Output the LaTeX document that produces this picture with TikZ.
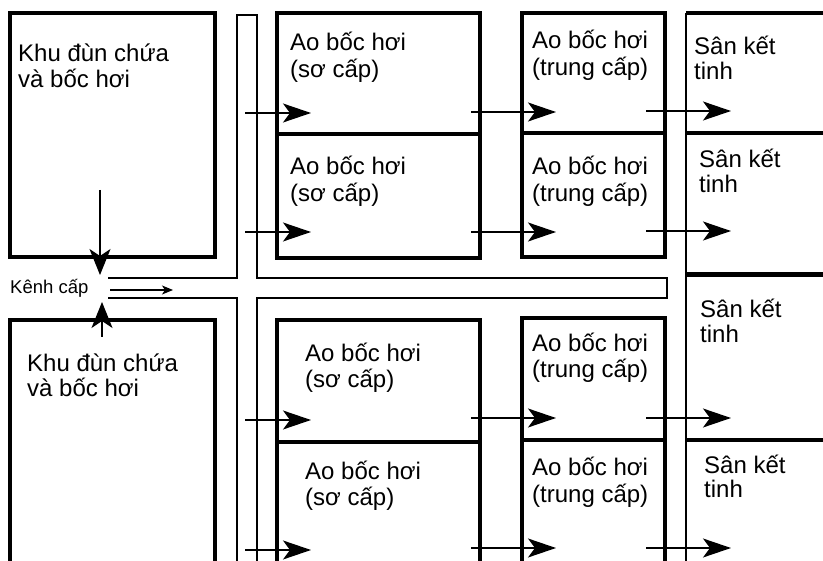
\documentclass[tikz,border=0pt]{standalone}
\usepackage{fontspec}
\setmainfont{Liberation Sans}
\usetikzlibrary{arrows.meta}
\begin{document}
\begin{tikzpicture}[x=1pt,y=-1pt,
  box/.style={line width=3.5pt},
  edge/.style={line width=2.5pt},
  chan/.style={line width=1.2pt},
  flow/.style={line width=1.3pt,-{Stealth[length=28pt,width=19pt,inset=7pt]}},
  vflow/.style={line width=1.3pt,-{Stealth[length=26pt,width=21pt,inset=7pt]}},
  small/.style={line width=1.2pt,-{Stealth[length=11pt,width=9pt,inset=3pt]}},
  lbl/.style={anchor=base west,inner sep=0pt,font=\fontsize{24}{28}\selectfont},
  slbl/.style={anchor=base west,inner sep=0pt,font=\fontsize{18.5}{22}\selectfont}]
\useasboundingbox (0,0) rectangle (823,561);
\clip (0,0) rectangle (823,561);
\fill[white] (0,0) rectangle (823,561);
% storage areas
\draw[box] (10,13) rectangle (215,257);
\draw[box] (10,320) rectangle (215,580);
% channels
\draw[chan] (108,278) -- (237,278) -- (237,15) -- (257,15) -- (257,278) -- (667,278) -- (667,298) -- (257,298) -- (257,580);
\draw[chan] (108,298) -- (237,298) -- (237,580);
% primary ponds
\draw[box] (277,13) rectangle (480,258);
\draw[box] (277,134) -- (480,134);
\draw[box] (277,320) rectangle (480,580);
\draw[box] (277,442) -- (480,442);
% secondary ponds
\draw[box] (522,13) rectangle (665,257);
\draw[box] (522,133) -- (665,133);
\draw[box] (522,318) rectangle (665,580);
\draw[box] (522,440) -- (665,440);
% crystallization yards
\draw[edge] (686,13) -- (686,580);
\draw[box] (686,13) -- (830,13);
\draw[box] (686,133) -- (830,133);
\draw[line width=5pt] (686,275) -- (830,275);
\draw[box] (686,440) -- (830,440);
% texts
\node[lbl] (tl1) at (18,62) {Khu đùn chứa};
\node[lbl] (tl2) at (18,88) {và bốc hơi};
\node[lbl] (bl1) at (27,372) {Khu đùn chứa};
\node[lbl] (bl2) at (27,397) {và bốc hơi};
\node[slbl] (kc) at (10,294) {Kênh cấp};
\node[lbl] (s1a) at (290,51) {Ao bốc hơi};
\node[lbl] (s1b) at (290,78) {(sơ cấp)};
\node[lbl] (s2a) at (290,175) {Ao bốc hơi};
\node[lbl] (s2b) at (290,202) {(sơ cấp)};
\node[lbl] (s3a) at (305,362) {Ao bốc hơi};
\node[lbl] (s3b) at (305,388) {(sơ cấp)};
\node[lbl] (s4a) at (305,480) {Ao bốc hơi};
\node[lbl] (s4b) at (305,506) {(sơ cấp)};
\node[lbl] (t1a) at (532,49) {Ao bốc hơi};
\node[lbl] (t1b) at (532,76) {(trung cấp)};
\node[lbl] (t2a) at (532,175) {Ao bốc hơi};
\node[lbl] (t2b) at (532,202) {(trung cấp)};
\node[lbl] (t3a) at (532,352) {Ao bốc hơi};
\node[lbl] (t3b) at (532,378) {(trung cấp)};
\node[lbl] (t4a) at (532,476) {Ao bốc hơi};
\node[lbl] (t4b) at (532,503) {(trung cấp)};
\node[lbl] (k1a) at (694,55) {Sân kết};
\node[lbl] (k1b) at (694,80) {tinh};
\node[lbl] (k2a) at (699,168) {Sân kết};
\node[lbl] (k2b) at (699,193) {tinh};
\node[lbl] (k3a) at (700,318) {Sân kết};
\node[lbl] (k3b) at (700,343) {tinh};
\node[lbl] (k4a) at (704,474) {Sân kết};
\node[lbl] (k4b) at (704,498) {tinh};
% arrow coordinates
\coordinate (vA0) at (100,190); \coordinate (vA1) at (100,275);
\coordinate (vB0) at (102,337); \coordinate (vB1) at (102,302);
\coordinate (kc0) at (110,290); \coordinate (kc1) at (173,290);
\foreach \r/\ya/\yb/\yc in {1/113/112/111, 2/232/232/231, 3/420/418/418, 4/550/548/548}{
  \coordinate (a\r0) at (245,\ya); \coordinate (a\r1) at (311,\ya);
  \coordinate (b\r0) at (471,\yb); \coordinate (b\r1) at (556,\yb);
  \coordinate (c\r0) at (646,\yc); \coordinate (c\r1) at (731,\yc);
}
\draw[vflow] (vA0) -- (vA1);
\draw[vflow] (vB0) -- (vB1);
\draw[small] (kc0) -- (kc1);
\foreach \r in {1,2,3,4}{
  \draw[flow] (a\r0) -- (a\r1);
  \draw[flow] (b\r0) -- (b\r1);
  \draw[flow] (c\r0) -- (c\r1);
}
\end{tikzpicture}
\end{document}
